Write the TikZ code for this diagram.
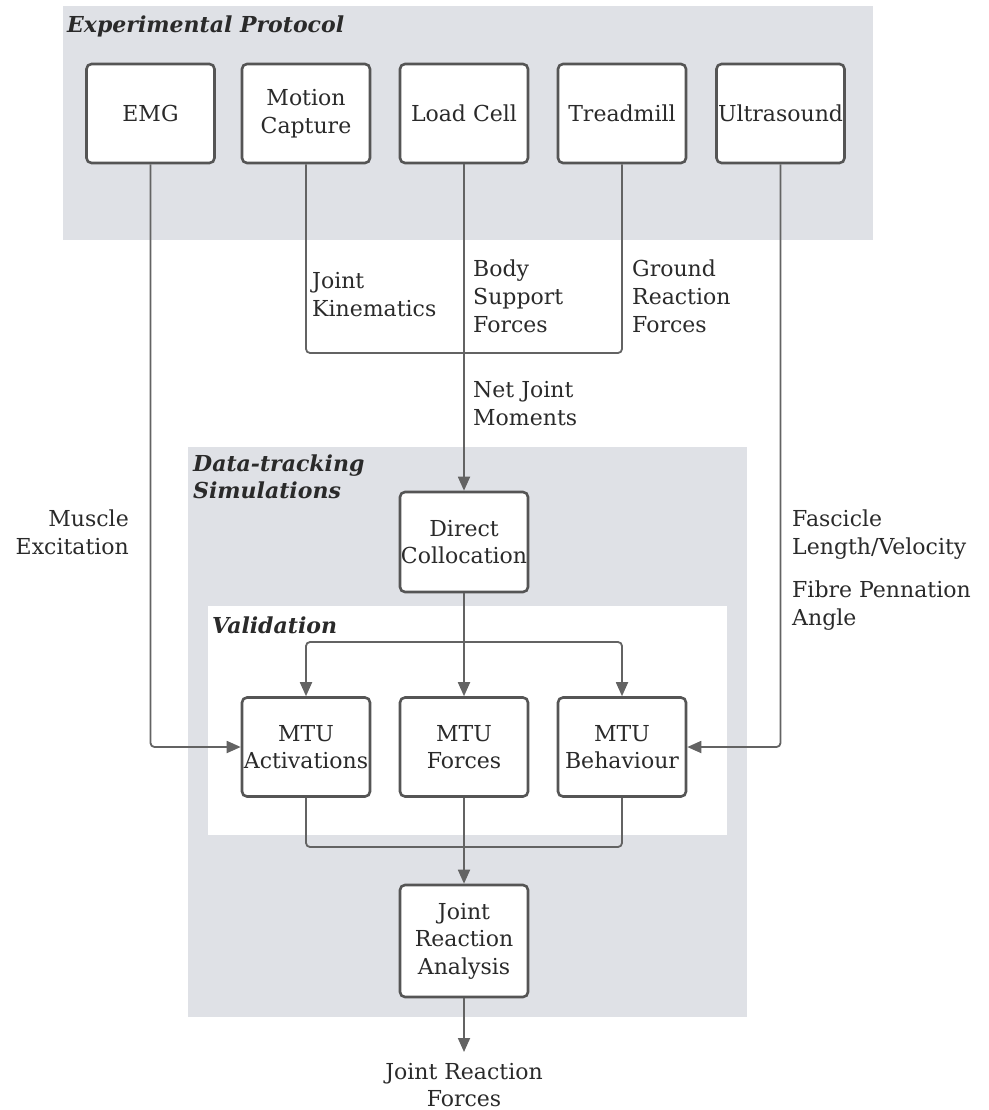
\documentclass[tikz,border=0pt]{standalone}
\usepackage{fontspec}
\setmainfont{DejaVu Serif}
\usetikzlibrary{arrows.meta}
\definecolor{bggray}{HTML}{DFE1E6}
\definecolor{boxline}{HTML}{555555}
\definecolor{conncol}{HTML}{636363}
\definecolor{txt}{HTML}{2A2A2A}
\begin{document}
\begin{tikzpicture}[x=1pt,y=-1pt,
  box/.style={draw=boxline, line width=2.6pt, rounded corners=5pt, fill=white,
    minimum width=128pt, minimum height=99pt, inner sep=0pt, align=center,
    font=\fontsize{22}{27.5}\selectfont, text=txt},
  lbl/.style={inner sep=0pt, font=\fontsize{22}{28}\selectfont, text=txt},
  ttl/.style={inner sep=0pt, align=left, font=\fontsize{22}{26.5}\selectfont\bfseries\itshape, text=txt},
  conn/.style={draw=conncol, line width=1.8pt, rounded corners=4pt},
  arr/.style={conn, -{Triangle[length=14pt,width=12pt]}}]
\useasboundingbox (0,0) rectangle (988,1110);

% backgrounds
\fill[bggray] (63,6) rectangle (873,240);
\fill[bggray] (188,447) rectangle (747,1017);
\fill[white] (208,606) rectangle (727,835);

% titles
\node[ttl, anchor=base west] (tep) at (67,33) {Experimental Protocol};
\node[ttl, anchor=north west] (tds) at (193,455) {Data-tracking\\Simulations};
\node[ttl, anchor=base west] (tval) at (212,633) {Validation};

% top boxes
\node[box] (emg) at (150.5,113.5) {EMG};
\node[box] (mc) at (306,113.5) {Motion\\Capture};
\node[box] (lc) at (464,113.5) {Load Cell};
\node[box] (tm) at (622,113.5) {Treadmill};
\node[box] (us) at (780.5,113.5) {Ultrasound};

% processing boxes
\node[box, minimum height=100pt] (dc) at (464,542) {Direct\\Collocation};
\node[box] (act) at (306,747) {MTU\\Activations};
\node[box] (frc) at (464,747) {MTU\\Forces};
\node[box] (beh) at (622,747) {MTU\\Behaviour};
\node[box, minimum height=112pt] (jra) at (464,941) {Joint\\Reaction\\Analysis};

% labels
\node[lbl, anchor=north west, align=left] (ljk) at (312,272) {Joint\\Kinematics};
\node[lbl, anchor=north west, align=left] (lbs) at (473,260) {Body\\Support\\Forces};
\node[lbl, anchor=north west, align=left] (lgr) at (632,260) {Ground\\Reaction\\Forces};
\node[lbl, anchor=north west, align=left] (lnj) at (473,381) {Net Joint\\Moments};
\node[lbl, anchor=north east, align=right] (lme) at (129,510) {Muscle\\Excitation};
\node[lbl, anchor=north west, align=left] (lfl) at (792,510) {Fascicle\\Length/Velocity};
\node[lbl, anchor=north west, align=left] (lfp) at (792,581) {Fibre Pennation\\Angle};
\node[lbl, anchor=north, align=center, font=\fontsize{22}{27}\selectfont] (ljr) at (464,1063) {Joint Reaction\\Forces};

% connectors
\coordinate (j1) at (464,353);
\coordinate (j2) at (464,642);
\coordinate (j3) at (464,847);
\coordinate (jout) at (464,1052);
\draw[conn] (mc.south) |- (j1);
\draw[conn] (tm.south) |- (j1);
\draw[arr] (lc.south) -- (dc.north);
\draw[conn] (dc.south) -- (j2);
\draw[arr] (j2) -| (act.north);
\draw[arr] (j2) -| (beh.north);
\draw[arr] (j2) -- (frc.north);
\draw[arr] (emg.south) |- (act.west);
\draw[arr] (us.south) |- (beh.east);
\draw[conn] (act.south) |- (j3);
\draw[conn] (beh.south) |- (j3);
\draw[arr] (frc.south) -- (jra.north);
\draw[arr] (jra.south) -- (jout);
\end{tikzpicture}
\end{document}
